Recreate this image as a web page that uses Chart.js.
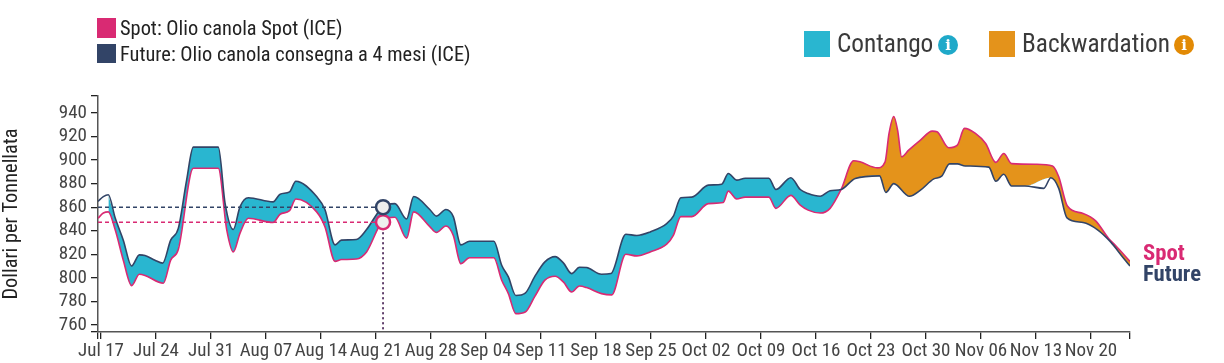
<!DOCTYPE html>
<html lang="it">
<head>
<meta charset="utf-8">
<title>Olio canola Spot / Future</title>
<script src="https://cdn.jsdelivr.net/npm/chart.js@4"></script>
<style>
  html, body { margin: 0; padding: 0; background: #fff; }
  body { position: relative; width: 1224px; height: 363px; overflow: hidden;
         font-family: "Roboto Condensed", Roboto, sans-serif; font-stretch: condensed; color: #222; }
  canvas { position: absolute; left: 0; top: 0; }
  .box { position: absolute; }
  .txt { position: absolute; white-space: nowrap; }
  .info { position: absolute; width: 20px; height: 20px; border-radius: 50%; color: #fff;
          font: bold 15px/20px "DejaVu Serif", serif; text-align: center; }
</style>
</head>
<body>
<canvas id="myChart" width="1224" height="363"></canvas>

<!-- legenda serie -->
<div class="box" style="left:97px;top:18px;width:19px;height:20px;background:#d92a73"></div>
<div class="txt" id="lgSpot" style="left:120px;top:17px;font-size:20.4px;line-height:22px">Spot: Olio canola Spot (ICE)</div>
<div class="box" style="left:97px;top:44px;width:19px;height:19px;background:#324467"></div>
<div class="txt" id="lgFuture" style="left:120px;top:43px;font-size:20.4px;line-height:22px">Future: Olio canola consegna a 4 mesi (ICE)</div>

<!-- legenda aree -->
<div class="box" style="left:804px;top:31px;width:26px;height:26px;background:#29b6d0"></div>
<div class="txt" style="left:837px;top:28px;font-size:25.3px;line-height:32px;color:#3a3a3a">Contango</div>
<div class="info" style="left:938px;top:35px;background:#1fa9c9">i</div>
<div class="box" style="left:989px;top:31px;width:26px;height:26px;background:#e4931b"></div>
<div class="txt" style="left:1022px;top:28px;font-size:25.3px;line-height:32px;color:#3a3a3a">Backwardation</div>
<div class="info" style="left:1174px;top:35px;background:#e28a05">i</div>

<!-- etichette fine linea -->
<div class="txt" style="left:1143px;top:241px;font-size:22.7px;line-height:24px;font-weight:700;color:#d92a73">Spot</div>
<div class="txt" style="left:1143px;top:262px;font-size:22.7px;line-height:24px;font-weight:700;color:#324467">Future</div>

<script>
// giorni dal 17 luglio
const xTickDays = [0, 7, 14, 21, 28, 35, 42, 49, 56, 63, 70, 77, 84, 91, 98, 105, 112, 119, 126];
const xTickLabels = ["Jul 17", "Jul 24", "Jul 31", "Aug 07", "Aug 14", "Aug 21", "Aug 28", "Sep 04", "Sep 11", "Sep 18",
  "Sep 25", "Oct 02", "Oct 09", "Oct 16", "Oct 23", "Oct 30", "Nov 06", "Nov 13", "Nov 20"];
const yTickValues = [760, 780, 800, 820, 840, 860, 880, 900, 920, 940];

const futureDays = [-0.38, 0.3, 0.93, 1.8, 2.84, 3.9, 4.88, 5.6, 6.87, 7.85, 8.87, 9.84, 10.9, 11.75, 14.93, 15.8, 16.84, 17.7, 18.75,
  21.9, 22.8, 24, 24.8, 27.45, 28.5, 29.8, 30.6, 32.5, 33.8, 35.7, 37.4, 38.9, 39.8, 41.85, 42.7, 43.9, 44.84, 45.8, 46.9, 50,
  51, 51.85, 52.8, 54, 55.2, 56.5, 57.8, 58.85, 59.9, 60.9, 61.8, 63.7, 64.9, 66.8, 68.2, 69.9, 72, 72.85, 73.8, 75.2, 77.3,
  79, 79.85, 80.9, 82, 85, 85.9, 87.8, 89, 90, 91.55, 92.8, 94.2, 96, 99.1, 99.9, 100.9, 102.9, 104.3, 106, 107, 108, 109, 110,
  113, 113.9, 114.9, 115.9, 117.6, 120, 120.9, 121.9, 122.95, 125, 126.8, 128.5, 130, 130.97];
const futureValues = [865, 869, 870.5, 851, 832, 810, 819.5, 819, 815, 812.5, 832, 842, 883, 911, 911, 863, 841, 860.5, 868,
  864.5, 871, 873, 882, 869, 858, 828, 832, 832.5, 841, 859, 863, 850, 869, 858, 852.4, 858, 852, 828, 831, 831,
  810.7, 800.8, 785, 787, 801, 813.5, 818, 812.7, 803.6, 809, 808.7, 803, 803.6, 837, 836, 839, 846, 852.4, 868, 868.5, 878.7,
  879.5, 888.6, 883, 884.6, 884.6, 875, 885, 875, 871.6, 869.3, 874, 875, 884.4, 886.6, 872.5, 880, 869.3, 874.4, 884, 886.3, 896.8, 896.8, 895,
  894, 882, 888, 878, 878, 876, 885, 876, 851, 847, 841, 830.5, 818, 810];

const spotDays = [-0.38, 0.3, 0.93, 1.8, 2.84, 3.9, 4.88, 5.6, 7.93, 8.87, 9.84, 11.75, 14.93, 16, 16.84, 17.7, 18.75,
  21.9, 22.8, 24, 24.8, 27.45, 28.5, 29.8, 30.6, 32.5, 33.8, 35.7, 37.4, 38.9, 39.8, 41.85, 42.7, 43.9, 44.84, 45.8, 46.9, 50,
  51, 51.85, 52.8, 54, 55.2, 56.5, 57.8, 58.85, 59.9, 60.9, 61.8, 63.7, 65, 66.8, 68.2, 69.9, 72, 72.85, 73.8, 75.2, 77.3,
  79.2, 79.85, 80.9, 82, 85, 85.9, 87.8, 89, 90, 91.55, 92.8, 94.2, 95.8, 96.6, 98.8, 99.8, 100.3, 100.9, 101.4, 101.9, 102.8, 104.3, 105.8, 106.4,
  107.9, 109, 109.9, 111.3, 112.6, 113.9, 114.9, 115.9, 119.1, 121.1, 121.9, 123, 125, 126.6, 128.25, 129.1, 130.97];
const spotValues = [850.6, 855, 856, 841, 815, 793.4, 803, 802, 795.4, 815, 824, 893, 893, 841, 822, 838, 850.6,
  847, 854, 857, 867, 856, 843.5, 814, 815.5, 816, 822, 847, 851.5, 833.7, 856, 843.5, 838.5, 844, 836, 812, 817, 817,
  798, 786.6, 769.6, 771, 784, 798, 801.4, 796.5, 788, 793, 791.7, 786.6, 785.5, 820, 818.6, 822, 828.6, 836, 852, 852, 863,
  864, 873.6, 867, 868.5, 868.5, 859, 870, 861.7, 857.5, 855, 859, 875, 899.4, 898.5, 893.4, 898.5, 922.6, 937, 925, 902.8, 908.4, 917, 924.6, 924,
  910.4, 912.7, 926.9, 922.6, 914, 898, 905.6, 897, 896.5, 895, 885.8, 861, 854.6, 848.4, 833.4, 827.7, 814];

// punto evidenziato
const hoverDay = 35.9;
const hoverFuture = 860;
const hoverSpot = 847.3;
// il riempimento comincia dopo il primo tratto e salta un punto del future (cuneo bianco a novembre)
const fillStartDay = 0.93;
const fillSkipDay = 120;

const X_MIN = -0.38;
const X_MAX = 130.97;
const Y_MIN = 754;
const Y_MAX = 954.4;

const SPOT = "#d92a73";
const FUTURE = "#324467";
const CONTANGO = "#29b6d0";
const BACKWARDATION = "#e4931b";
const FONT = '"Roboto Condensed", Roboto, sans-serif';

const toPoints = (days, values) => days.map((d, i) => ({ x: d, y: values[i] }));
const futurePoints = toPoints(futureDays, futureValues);

function guide(points, color, dash) {
  return {
    data: points,
    borderColor: color,
    borderWidth: 1.5,
    borderDash: dash,
    pointRadius: 0,
    fill: false,
  };
}

function marker(y, color) {
  return {
    data: [{ x: hoverDay, y: y }],
    showLine: false,
    pointRadius: 7,
    pointBorderWidth: 2.5,
    pointBorderColor: color,
    pointBackgroundColor: "#eeeeee",
    fill: false,
  };
}

new Chart(document.querySelector("#myChart").getContext("2d"), {
  type: "line",
  data: {
    datasets: [
      marker(hoverFuture, FUTURE),
      marker(hoverSpot, SPOT),
      guide([{ x: X_MIN, y: hoverFuture }, { x: hoverDay, y: hoverFuture }], FUTURE, [4, 3]),
      guide([{ x: X_MIN, y: hoverSpot }, { x: hoverDay, y: hoverSpot }], SPOT, [4, 3]),
      guide([{ x: hoverDay, y: hoverFuture }, { x: hoverDay, y: Y_MIN }], FUTURE, [2, 3]),
      guide([{ x: hoverDay, y: hoverSpot }, { x: hoverDay, y: Y_MIN }], SPOT, [2, 3]),
      {
        label: "Future",
        data: futurePoints,
        borderColor: FUTURE,
        borderWidth: 1.6,
        cubicInterpolationMode: "monotone",
        pointRadius: 0,
        fill: false,
      },
      {
        label: "Spot",
        data: toPoints(spotDays, spotValues),
        borderColor: SPOT,
        borderWidth: 1.6,
        cubicInterpolationMode: "monotone",
        pointRadius: 0,
        fill: { target: 8, above: BACKWARDATION, below: CONTANGO },
      },
      {
        // bordo inferiore del riempimento, non visibile
        data: futurePoints.filter((p) => p.x >= fillStartDay && p.x !== fillSkipDay),
        borderColor: "transparent",
        borderWidth: 0,
        cubicInterpolationMode: "monotone",
        pointRadius: 0,
        fill: false,
      },
    ],
  },
  options: {
    responsive: false,
    animation: false,
    events: [],
    parsing: false,
    normalized: true,
    layout: { padding: { top: 96, right: 94, left: 0, bottom: 0 } },
    plugins: { legend: { display: false }, tooltip: { enabled: false } },
    scales: {
      x: {
        type: "linear",
        min: X_MIN,
        max: X_MAX,
        afterFit: (scale) => { scale.height = 31; },
        afterBuildTicks: (scale) => {
          scale.ticks = [X_MIN, ...xTickDays, X_MAX].map((v) => ({ value: v }));
        },
        ticks: {
          autoSkip: false,
          maxRotation: 0,
          padding: 1,
          color: "#444",
          font: { family: FONT, size: 19 },
          callback: (v) => {
            const i = xTickDays.indexOf(v);
            return i < 0 ? "" : xTickLabels[i];
          },
        },
        grid: { drawOnChartArea: false, color: "#222", lineWidth: 1.3, tickLength: 7 },
        border: { color: "#555", width: 1.5 },
      },
      y: {
        min: Y_MIN,
        max: Y_MAX,
        afterFit: (scale) => { scale.width = 98; },
        afterBuildTicks: (scale) => {
          scale.ticks = [Y_MIN, ...yTickValues, Y_MAX].map((v) => ({ value: v }));
        },
        ticks: {
          autoSkip: false,
          padding: 4,
          color: "#444",
          font: { family: FONT, size: 19 },
          callback: (v) => (yTickValues.includes(v) ? String(v) : ""),
        },
        grid: { drawOnChartArea: false, color: "#222", lineWidth: 1.3, tickLength: 7 },
        border: { color: "#555", width: 1.5 },
        title: {
          display: true,
          text: "Dollari per Tonnellata",
          color: "#222",
          font: { family: FONT, size: 20.4 },
          padding: { top: 0, bottom: 0 },
        },
      },
    },
  },
});
</script>
</body>
</html>
